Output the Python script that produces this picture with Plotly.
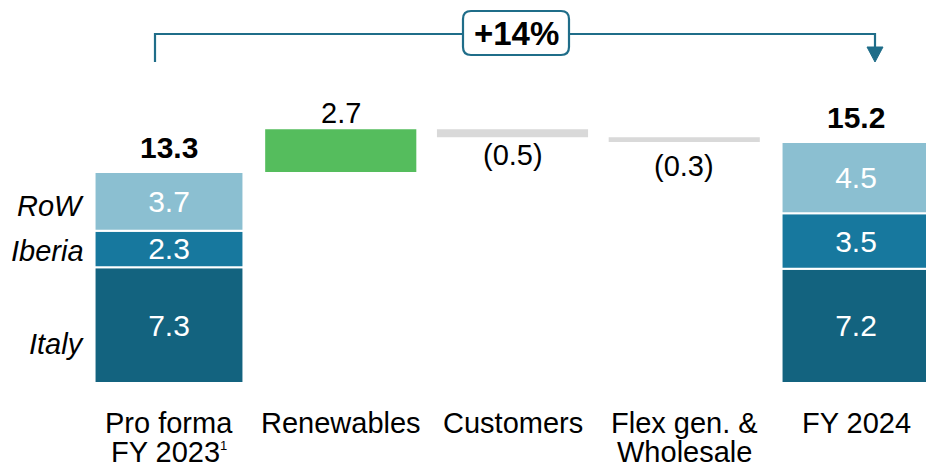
import plotly.graph_objects as go
import numpy as np

# ---------------- data ----------------
categories = [0, 1, 2, 3, 4]
category_labels = [["Pro forma", "FY 2023<sup><span style='font-size:13px'>1</span></sup>"],
                   ["Renewables"], ["Customers"], ["Flex gen. &", "Wholesale"], ["FY 2024"]]
regions = ["Italy", "Iberia", "RoW"]
start_values = [7.3, 2.3, 3.7]   # Pro forma FY 2023
end_values = [7.2, 3.5, 4.5]     # FY 2024
start_total_label = "13.3"
end_total_label = "15.2"
deltas = [2.7, -0.5, -0.3]       # Renewables, Customers, Flex gen. & Wholesale
delta_labels = ["2.7", "(0.5)", "(0.3)"]
growth_label = "+14%"

# ---------------- styles ----------------
FONT = "Liberation Sans, Arial, sans-serif"
region_colors = ["#13637f", "#17789e", "#8bbfd1"]
delta_colors = ["#55bd5d", "#d9d9d9", "#d9d9d9"]
bracket_color = "#1f6d89"
delta_label_shift = [-2, 0, -6]
W, H = 926, 466
ML, MB = 83, 83
XS = 171.75   # px per category
X0 = 169.0    # px of category 0
YS = 15.86    # px per unit
YB = H - MB   # px of zero line


def dx(p):
    return (p - X0) / XS


def dy(p):
    return (YB - p) / YS


def pyp(p):  # pixel -> paper y
    return (YB - p) / YB


fig = go.Figure()

# stacked end bars
start_base = np.concatenate([[0], np.cumsum(start_values)[:-1]])
end_base = np.concatenate([[0], np.cumsum(end_values)[:-1]])
for i, r in enumerate(regions):
    fig.add_trace(go.Bar(
        x=[categories[0], categories[-1]],
        y=[start_values[i], end_values[i]],
        base=[start_base[i], end_base[i]],
        width=0.867,
        marker=dict(color=region_colors[i], line=dict(color="white", width=2)),
        text=[f"{start_values[i]:.1f}", f"{end_values[i]:.1f}"],
        textposition="inside", insidetextanchor="middle", textangle=0,
        insidetextfont=dict(color="white", size=30, family=FONT),
        name=r, showlegend=False, hoverinfo="skip",
    ))

# floating delta bars
start_total = float(np.sum(start_values))
running = start_total + np.concatenate([[0], np.cumsum(deltas)[:-1]])
fig.add_trace(go.Bar(
    x=categories[1:4], y=deltas, base=running, width=0.88,
    marker=dict(color=delta_colors, line=dict(width=0)),
    showlegend=False, hoverinfo="skip",
))

ann = []
# totals
end_total = float(np.sum(end_values))
for xc, tot, lab in [(categories[0], start_total, start_total_label),
                     (categories[-1], end_total, end_total_label)]:
    ann.append(dict(x=xc, y=tot, yanchor="bottom", yshift=6, text=f"<b>{lab}</b>",
                    showarrow=False, font=dict(size=30, color="black", family=FONT)))
# delta labels
for k, (d, b, lab) in enumerate(zip(deltas, running, delta_labels)):
    ann.append(dict(x=categories[1 + k], y=b + d, yanchor="bottom" if d >= 0 else "top",
                    yshift=delta_label_shift[k], text=lab, showarrow=False,
                    font=dict(size=29, color="black", family=FONT)))
# region labels
for r, ypx in zip(["RoW", "Iberia", "Italy"], [206, 251, 344]):
    ann.append(dict(xref="paper", x=0, xanchor="right", xshift=3, y=dy(ypx), yanchor="middle",
                    text=f"<i>{r}</i>", showarrow=False,
                    font=dict(size=29, color="black", family=FONT)))
# category labels
for c, lines in zip(categories, category_labels):
    for j, line in enumerate(lines):
        ann.append(dict(x=c, yref="paper", y=pyp(423 + 28.5 * j), yanchor="middle", text=line,
                        showarrow=False, font=dict(size=29, color="black", family=FONT)))
# growth label
ann.append(dict(x=dx(516), y=dy(33), text=f"<b>{growth_label}</b>", showarrow=False,
                yanchor="middle", font=dict(size=33, color="black", family=FONT)))

# bracket + arrow + rounded box
shapes = []
lx, rx, ty = 155, 875, 34
shapes.append(dict(type="path", xref="x", yref="y",
                   path=f"M {dx(lx)},{dy(62)} L {dx(lx)},{dy(ty)} L {dx(rx)},{dy(ty)} L {dx(rx)},{dy(49)}",
                   line=dict(color=bracket_color, width=2.2)))
shapes.append(dict(type="path", xref="x", yref="y",
                   path=f"M {dx(rx-8)},{dy(47)} L {dx(rx+8)},{dy(47)} L {dx(rx)},{dy(62)} Z",
                   fillcolor=bracket_color, line=dict(color=bracket_color, width=1)))
x1, x2, y1, y2, rr = 463, 569, 11, 55, 8


def P(a, b):
    return f"{dx(a)},{dy(b)}"


box = (f"M {P(x1+rr, y1)} L {P(x2-rr, y1)} Q {P(x2, y1)} {P(x2, y1+rr)} "
       f"L {P(x2, y2-rr)} Q {P(x2, y2)} {P(x2-rr, y2)} L {P(x1+rr, y2)} "
       f"Q {P(x1, y2)} {P(x1, y2-rr)} L {P(x1, y1+rr)} Q {P(x1, y1)} {P(x1+rr, y1)} Z")
shapes.append(dict(type="path", xref="x", yref="y", path=box, fillcolor="white",
                   line=dict(color=bracket_color, width=2.2)))

fig.update_layout(
    width=W, height=H, autosize=False,
    margin=dict(l=ML, r=0, t=0, b=MB, pad=0),
    paper_bgcolor="white", plot_bgcolor="white",
    barmode="overlay",
    font=dict(family=FONT, size=28, color="black"),
    uniformtext=dict(minsize=30, mode="show"),
    xaxis=dict(range=[dx(ML), dx(W)], showticklabels=False, showgrid=False, zeroline=False,
               showline=False, ticks="", fixedrange=True),
    yaxis=dict(range=[0, YB / YS], showticklabels=False, showgrid=False, zeroline=False,
               showline=False, ticks="", fixedrange=True),
    annotations=ann, shapes=shapes,
)

fig.write_html("out.html", config={"displayModeBar": False},
               post_script="document.body.style.margin='0';document.body.style.overflow='hidden';")
